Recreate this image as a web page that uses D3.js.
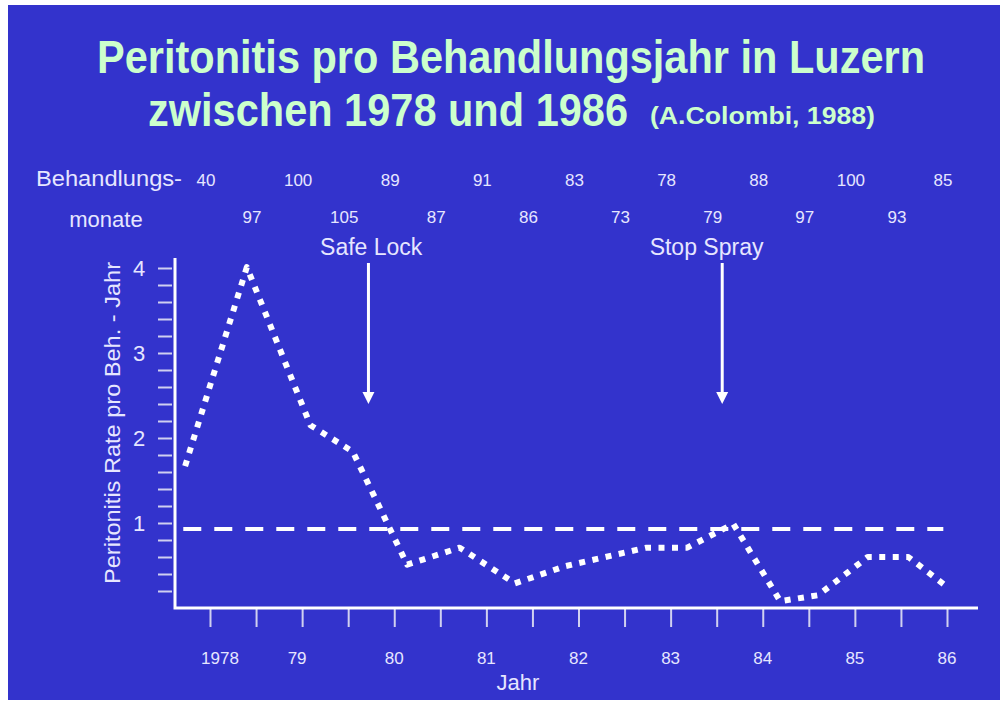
<!DOCTYPE html>
<html>
<head>
<meta charset="utf-8">
<script src="https://cdn.jsdelivr.net/npm/d3@7"></script>
<style>
  body { margin: 0; background: #fff; }
  text { font-family: "Liberation Sans", Arial, sans-serif; }
</style>
</head>
<body>
<svg id="chart"></svg>
<script>
// values
let yearTicks = [1978, 1979, 1980, 1981, 1982, 1983, 1984, 1985, 1986];
let yearLabels = ["1978", "79", "80", "81", "82", "83", "84", "85", "86"];
let halfYearTicks = d3.range(1978, 1986.01, 0.5);

let monthsYear = [40, 100, 89, 91, 83, 78, 88, 100, 85];       // at 1978, 1979 ...
let monthsHalf = [97, 105, 87, 86, 73, 79, 97, 93];            // at 1978.5, 1979.5 ...

let rateX = [1977.73, 1978.40, 1979.09, 1979.55, 1980.14, 1980.71, 1981.31, 1981.85,
  1982.74, 1983.18, 1983.68, 1984.19, 1984.60, 1985.14, 1985.58, 1986.01];
let rateY = [1.67, 4.01, 2.15, 1.84, 0.51, 0.71, 0.29, 0.49,
  0.71, 0.71, 0.99, 0.08, 0.15, 0.60, 0.60, 0.24];

let refLevel = 0.93;
let refFrom = 1977.71;
let refTo = 1985.96;

let yTickLabels = [1, 2, 3, 4];
let yMinorTicks = d3.range(0.2, 4.01, 0.2);

let events = ["Safe Lock", "Stop Spray"];
let eventYears = [1979.72, 1983.56];
let eventLabelYears = [1979.75, 1983.39];

let width = 1006;
let height = 705;
let bg = "#3333cc";
let fg = "#e6e6ff";
let titleColor = "#ccffcc";

let svg = d3.select("#chart").attr("width", width).attr("height", height);

svg.append("rect")
  .attr("x", 8).attr("y", 5)
  .attr("width", 992).attr("height", 695)
  .attr("fill", bg);

// title (narrow, tall lettering like the slide)
function titleText(str, x, y, size, len) {
  svg.append("text")
    .attr("transform", `translate(${x},${y}) scale(1,1.12)`)
    .attr("textLength", len).attr("lengthAdjust", "spacingAndGlyphs")
    .attr("font-size", size).attr("font-weight", "bold")
    .attr("fill", titleColor)
    .text(str);
}
titleText("Peritonitis pro Behandlungsjahr in Luzern", 97, 73, 41, 828);
titleText("zwischen 1978 und 1986", 148, 126, 41, 480);
titleText("(A.Colombi, 1988)", 650, 124, 22, 225);

let xScale = d3.scaleLinear().domain([1978, 1986]).range([210, 947]);
let yScale = d3.scaleLinear().domain([0, 4]).range([608, 268]);

// treatment months rows
svg.append("text")
  .attr("x", 36).attr("y", 186)
  .attr("textLength", 146).attr("lengthAdjust", "spacingAndGlyphs")
  .attr("font-size", 22).attr("fill", fg)
  .text("Behandlungs-");
svg.append("text")
  .attr("x", 106).attr("y", 227)
  .attr("text-anchor", "middle")
  .attr("font-size", 22).attr("fill", fg)
  .text("monate");

svg.selectAll(".mYear")
  .data(monthsYear)
  .enter()
  .append("text")
  .attr("class", "mYear")
  .attr("x", (d, i) => xScale(yearTicks[i]) - 4)
  .attr("y", 186)
  .attr("text-anchor", "middle")
  .attr("font-size", 17).attr("fill", fg)
  .text((d) => d);

svg.selectAll(".mHalf")
  .data(monthsHalf)
  .enter()
  .append("text")
  .attr("class", "mHalf")
  .attr("x", (d, i) => xScale(yearTicks[i] + 0.5) - 4)
  .attr("y", 223)
  .attr("text-anchor", "middle")
  .attr("font-size", 17).attr("fill", fg)
  .text((d) => d);

// y axis: minor ticks + labels
let yAxis = d3.axisLeft(yScale)
  .tickValues(yMinorTicks)
  .tickSize(14)
  .tickFormat("");
let gy = svg.append("g")
  .attr("transform", "translate(172,0)")
  .call(yAxis);
gy.select(".domain").remove();
gy.selectAll(".tick line").attr("stroke", "#d0d0f0").attr("stroke-width", 2);

svg.selectAll(".yLab")
  .data(yTickLabels)
  .enter()
  .append("text")
  .attr("class", "yLab")
  .attr("x", 139)
  .attr("y", (d) => yScale(d) + 8)
  .attr("text-anchor", "middle")
  .attr("font-size", 22).attr("fill", fg)
  .text((d) => d);

svg.append("text")
  .attr("transform", "translate(120,262) rotate(-90)")
  .attr("text-anchor", "end")
  .attr("textLength", 322).attr("lengthAdjust", "spacingAndGlyphs")
  .attr("font-size", 22).attr("fill", fg)
  .text("Peritonitis  Rate pro Beh. - Jahr");

// x axis
let xAxis = d3.axisBottom(xScale)
  .tickValues(halfYearTicks)
  .tickSize(18)
  .tickFormat("");
let gx = svg.append("g")
  .attr("transform", "translate(0,609)")
  .call(xAxis);
gx.select(".domain").remove();
gx.selectAll(".tick line").attr("stroke", "#d0d0f0").attr("stroke-width", 2);

svg.selectAll(".xLab")
  .data(yearLabels)
  .enter()
  .append("text")
  .attr("class", "xLab")
  .attr("x", (d, i) => xScale(yearTicks[i]) + (i == 0 ? 10 : i == 1 ? -5 : 0))
  .attr("y", 664)
  .attr("text-anchor", "middle")
  .attr("font-size", 17).attr("fill", fg)
  .text((d) => d);

svg.append("text")
  .attr("x", 518).attr("y", 690)
  .attr("text-anchor", "middle")
  .attr("font-size", 22).attr("fill", fg)
  .text("Jahr");

// axis lines
svg.append("path")
  .attr("d", "M175,258 V608 H978")
  .attr("fill", "none")
  .attr("stroke", "#fff")
  .attr("stroke-width", 3);

// reference (dashed) line
svg.append("line")
  .attr("x1", xScale(refFrom)).attr("x2", xScale(refTo))
  .attr("y1", yScale(refLevel)).attr("y2", yScale(refLevel))
  .attr("stroke", "#fff")
  .attr("stroke-width", 4)
  .attr("stroke-dasharray", "18 13");

// rate line (square dots)
let pts = rateX.map((x, i) => [x, rateY[i]]);
svg.append("path")
  .datum(pts)
  .attr("fill", "none")
  .attr("stroke", "#fff")
  .attr("stroke-width", 6)
  .attr("stroke-linejoin", "round")
  .attr("stroke-dasharray", "6 7.5")
  .attr("d", d3.line()
    .x((d) => xScale(d[0]))
    .y((d) => yScale(d[1])));

// event arrows
events.forEach((name, i) => {
  let ax = xScale(eventYears[i]);
  svg.append("line")
    .attr("x1", ax).attr("x2", ax)
    .attr("y1", 263).attr("y2", 394)
    .attr("stroke", "#fff")
    .attr("stroke-width", 3);
  svg.append("path")
    .attr("d", `M${ax - 6},392 L${ax + 6},392 L${ax},404 Z`)
    .attr("fill", "#fff");
  svg.append("text")
    .attr("x", xScale(eventLabelYears[i]))
    .attr("y", 255)
    .attr("text-anchor", "middle")
    .attr("font-size", 23).attr("fill", fg)
    .text(name);
});
</script>
</body>
</html>
